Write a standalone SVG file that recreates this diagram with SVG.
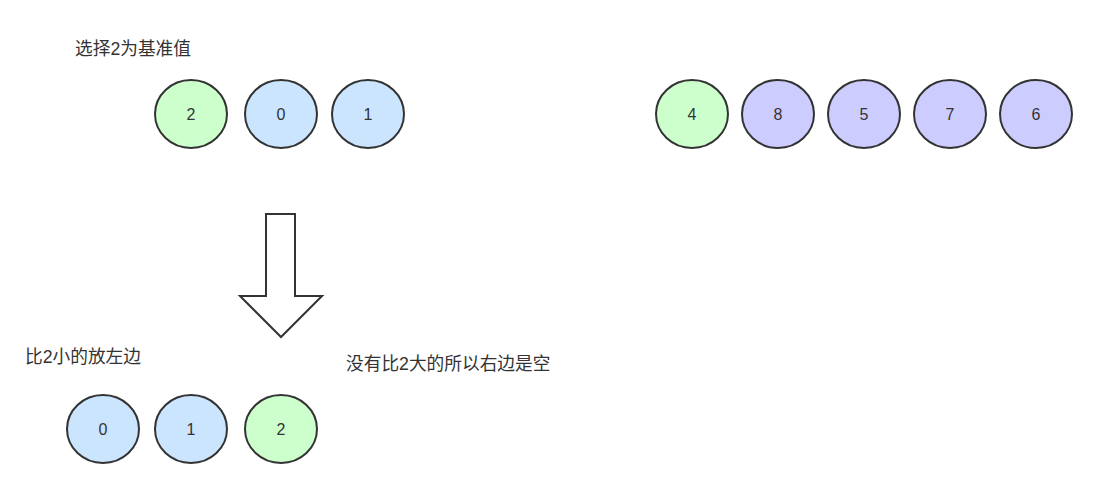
<svg xmlns="http://www.w3.org/2000/svg" width="1099" height="483" viewBox="0 0 1099 483">
<style>
.n ellipse{stroke:#333;stroke-width:2}
.g{fill:#ccffcc}.b{fill:#cce5ff}.p{fill:#ccccff}
.t{font-family:"Liberation Sans","Noto Sans CJK SC",sans-serif;font-size:17.7px;fill:#333}
.c{text-anchor:middle;dominant-baseline:central;font-size:16px}
</style>
<rect width="1099" height="483" fill="#fff"/>
<text class="t" x="75" y="55">选择2为基准值</text>
<text class="t" x="25" y="363">比2小的放左边</text>
<text class="t" x="346" y="370">没有比2大的所以右边是空</text>
<g id="n2" class="n"><ellipse class="g" cx="191" cy="114" rx="36" ry="34"/><text class="t c" x="191" y="114">2</text></g>
<g id="n0" class="n"><ellipse class="b" cx="281" cy="114" rx="36" ry="34"/><text class="t c" x="281" y="114">0</text></g>
<g id="n1" class="n"><ellipse class="b" cx="368" cy="114" rx="36" ry="34"/><text class="t c" x="368" y="114">1</text></g>
<g id="n4" class="n"><ellipse class="g" cx="692" cy="114" rx="36" ry="34"/><text class="t c" x="692" y="114">4</text></g>
<g id="n8" class="n"><ellipse class="p" cx="778" cy="114" rx="36" ry="34"/><text class="t c" x="778" y="114">8</text></g>
<g id="n5" class="n"><ellipse class="p" cx="864" cy="114" rx="36" ry="34"/><text class="t c" x="864" y="114">5</text></g>
<g id="n7" class="n"><ellipse class="p" cx="950" cy="114" rx="36" ry="34"/><text class="t c" x="950" y="114">7</text></g>
<g id="n6" class="n"><ellipse class="p" cx="1036" cy="114" rx="36" ry="34"/><text class="t c" x="1036" y="114">6</text></g>
<g id="m0" class="n"><ellipse class="b" cx="103" cy="429" rx="36" ry="34"/><text class="t c" x="103" y="429">0</text></g>
<g id="m1" class="n"><ellipse class="b" cx="191" cy="429" rx="36" ry="34"/><text class="t c" x="191" y="429">1</text></g>
<g id="m2" class="n"><ellipse class="g" cx="281" cy="429" rx="36" ry="34"/><text class="t c" x="281" y="429">2</text></g>
<g id="connectors">
<path d="M266 214 H295 V296 H322 L281 337 L240 296 H266 Z" fill="#fff" stroke="#333" stroke-width="2" stroke-linejoin="miter"/>
</g>
</svg>
